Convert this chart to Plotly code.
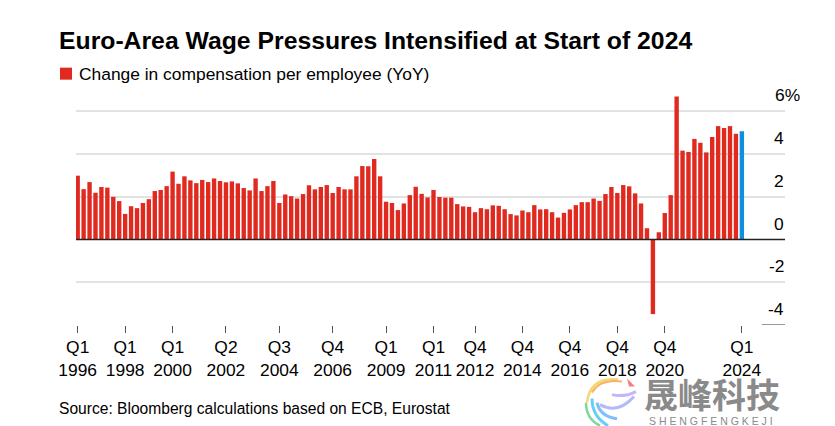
import plotly.graph_objects as go

TITLE = "Euro-Area Wage Pressures Intensified at Start of 2024"
SERIES = "Change in compensation per employee (YoY)"
SOURCE = "Source: Bloomberg calculations based on ECB, Eurostat"

# Quarterly values Q1 1996 .. Q4 2023 (red) and Q1 2024 (blue)
values = [
    2.99, 2.36, 2.69, 2.19, 2.46, 2.43, 2.00, 1.80, 1.20, 1.56, 1.47, 1.71, 1.89, 2.27, 2.32, 2.50,
    3.18, 2.61, 2.96, 2.77, 2.64, 2.79, 2.69, 2.86, 2.74, 2.68, 2.72, 2.63, 2.41, 2.30, 2.86, 2.27,
    2.50, 2.74, 1.71, 2.11, 2.03, 1.92, 2.13, 2.54, 2.35, 2.46, 2.55, 2.18, 2.46, 2.35, 2.35, 2.96,
    3.44, 3.43, 3.77, 2.96, 1.77, 1.71, 1.38, 1.69, 2.08, 2.47, 2.14, 1.97, 2.32, 1.99, 1.96, 1.96,
    1.66, 1.55, 1.53, 1.28, 1.47, 1.42, 1.60, 1.58, 1.42, 1.19, 1.13, 1.36, 1.28, 1.61, 1.41, 1.42,
    1.28, 1.03, 1.25, 1.41, 1.61, 1.75, 1.75, 1.92, 1.81, 2.13, 2.46, 2.18, 2.55, 2.49, 2.16, 1.69,
    0.53, -3.49, 0.34, 1.24, 2.08, 6.70, 4.16, 4.10, 4.71, 4.53, 4.08, 4.80, 5.31, 5.22, 5.31, 4.95,
]
latest_value = [5.07]
latest_index = [112]
indices = list(range(len(values)))

tick_positions = [0, 8, 16, 25, 34, 43, 52, 60, 67, 75, 83, 91, 99, 112]
tick_quarters = ["Q1", "Q1", "Q1", "Q2", "Q3", "Q4", "Q1", "Q1", "Q4", "Q4", "Q4", "Q4", "Q4", "Q1"]
tick_years = ["1996", "1998", "2000", "2002", "2004", "2006", "2009", "2011", "2012", "2014",
              "2016", "2018", "2020", "2024"]
y_ticks = [6, 4, 2, 0, -2, -4]
y_labels = ["6%", "4", "2", "0", "-2", "-4"]

OFF = 8  # the page body adds this margin around the figure
W, H = 835 - OFF, 426 - OFF
L, R, T, B = 76, 785, 90.3, 324.6  # in window pixels
STEP = 5.93
X0 = 77.7
x_range = [(L - X0) / STEP, (R - X0) / STEP]

TEXT = "#000000"
FONT = "Liberation Sans, Arial, sans-serif"

def px(x): return (x - L) / (R - L)
def py(y): return (B - y) / (B - T)

fig = go.Figure()
fig.add_bar(x=indices, y=values, name=SERIES, marker_color="#e02a20", marker_line_width=0,
            width=0.74, xaxis="x", yaxis="y", showlegend=False)
fig.add_bar(x=latest_index, y=latest_value, marker_color="#0f8fe0", marker_line_width=0,
            width=0.74, xaxis="x2", yaxis="y", showlegend=False)

annotations = [
    dict(text=f"<b>{TITLE}</b>", xref="paper", yref="paper", x=px(58), y=py(41), xanchor="left",
         yanchor="middle", showarrow=False, xshift=-1, font=dict(size=24.75, color=TEXT, family=FONT)),
    dict(text=SERIES, xref="paper", yref="paper", x=px(77), y=py(74), xanchor="left",
         yanchor="middle", showarrow=False, font=dict(size=17.4, color=TEXT, family=FONT)),
    dict(text=SOURCE, xref="paper", yref="paper", x=px(57), y=py(408), xanchor="left",
         yanchor="middle", showarrow=False, font=dict(size=15.6, color=TEXT, family=FONT)),
    dict(text="<b>晟峰科技</b>", xref="paper", yref="paper", x=px(712), y=py(393), xanchor="center",
         yanchor="middle", showarrow=False,
         font=dict(size=34, color="#8a8a8a", family="Noto Sans CJK SC")),
    dict(text="S H E N G F E N G K E J I",
         xref="paper", yref="paper", x=px(710.5), y=py(420.5), xanchor="center",
         yanchor="middle", showarrow=False, font=dict(size=10.5, color="#8a8a8a", family=FONT)),
]
for v, lab in zip(y_ticks, y_labels):
    pct = lab.endswith("%")
    annotations.append(dict(
        text=lab, xref="paper", yref="y", x=px(773) if pct else px(786), y=v,
        xanchor="left" if pct else "right", yanchor="middle", yshift=16, showarrow=False,
        font=dict(size=17.4, color=TEXT, family=FONT)))

line = lambda d, c, w: dict(type="path", xref="paper", yref="paper", path=d,
                            line=dict(color=c, width=w), layer="above")
def arc(p0, c, p1):
    return f"M{px(p0[0])},{py(p0[1])} Q{px(c[0])},{py(c[1])} {px(p1[0])},{py(p1[1])}"

shapes = [
    dict(type="rect", xref="paper", yref="paper", x0=px(60), x1=px(72), y0=py(80), y1=py(68),
         fillcolor="#e02a20", line=dict(width=0), layer="above"),
    dict(type="line", xref="paper", yref="y", x0=0, x1=1, y0=0, y1=0, line=dict(color="#222222", width=1.5), layer="above"),
    dict(type="line", xref="paper", yref="y", x0=px(761.7), x1=1, y0=-4, y1=-4, line=dict(color="#777777", width=1.5), layer="above"),
    line(arc((618, 379), (590, 376), (587, 402)), "#f5d76e", 2.5),
    line(arc((622, 381), (600, 378), (592, 392)), "#f7b26a", 2),
    line(arc((586, 402), (586, 418), (600, 425)), "#7fd6a0", 2.5),
    line(arc((592, 398), (592, 416), (608, 425)), "#66cff5", 3),
    line(arc((597, 402), (600, 416), (617, 418)), "#7ec0fb", 3),
    line(arc((600, 404), (618, 414), (634, 396)), "#b5b8fb", 3),
    line(arc((612, 394), (624, 397), (636, 391)), "#c5b5fa", 3),
    dict(type="path", xref="paper", yref="paper",
         path=f"M{px(627)},{py(378)} L{px(635)},{py(386)} L{px(629)},{py(386)} Z",
         fillcolor="#fb7a7a", line=dict(width=0), layer="above"),
]

fig.update_layout(
    width=W, height=H,
    margin=dict(l=L - OFF, r=835 - R, t=T - OFF, b=426 - B, pad=0, autoexpand=False),
    paper_bgcolor="white", plot_bgcolor="white",
    barmode="overlay", font=dict(family=FONT, size=16, color=TEXT),
    annotations=annotations, shapes=shapes, showlegend=False,
    xaxis=dict(range=x_range, tickmode="array", tickvals=tick_positions, ticktext=tick_quarters,
               ticks="outside", ticklen=6.5, tickwidth=1, tickcolor="#555555", showgrid=False,
               zeroline=False, showline=False, ticklabelstandoff=0,
               tickfont=dict(size=17.4, color=TEXT, family=FONT), tickangle=0, anchor="y", side="bottom"),
    xaxis2=dict(range=x_range, tickmode="array", tickvals=tick_positions, ticktext=tick_years,
                ticks="", showgrid=False, zeroline=False, showline=False, overlaying="x",
                ticklabelstandoff=33, tickfont=dict(size=17.4, color=TEXT, family=FONT),
                tickangle=0, anchor="y", side="bottom"),
    yaxis=dict(range=[-4, 7], tickmode="array", tickvals=[6, 4, 2, -2], showticklabels=False,
               ticks="", showgrid=True, gridcolor="#e2e2e2", gridwidth=1.5, zeroline=False, showline=False),
)
fig.write_html("out.html")
